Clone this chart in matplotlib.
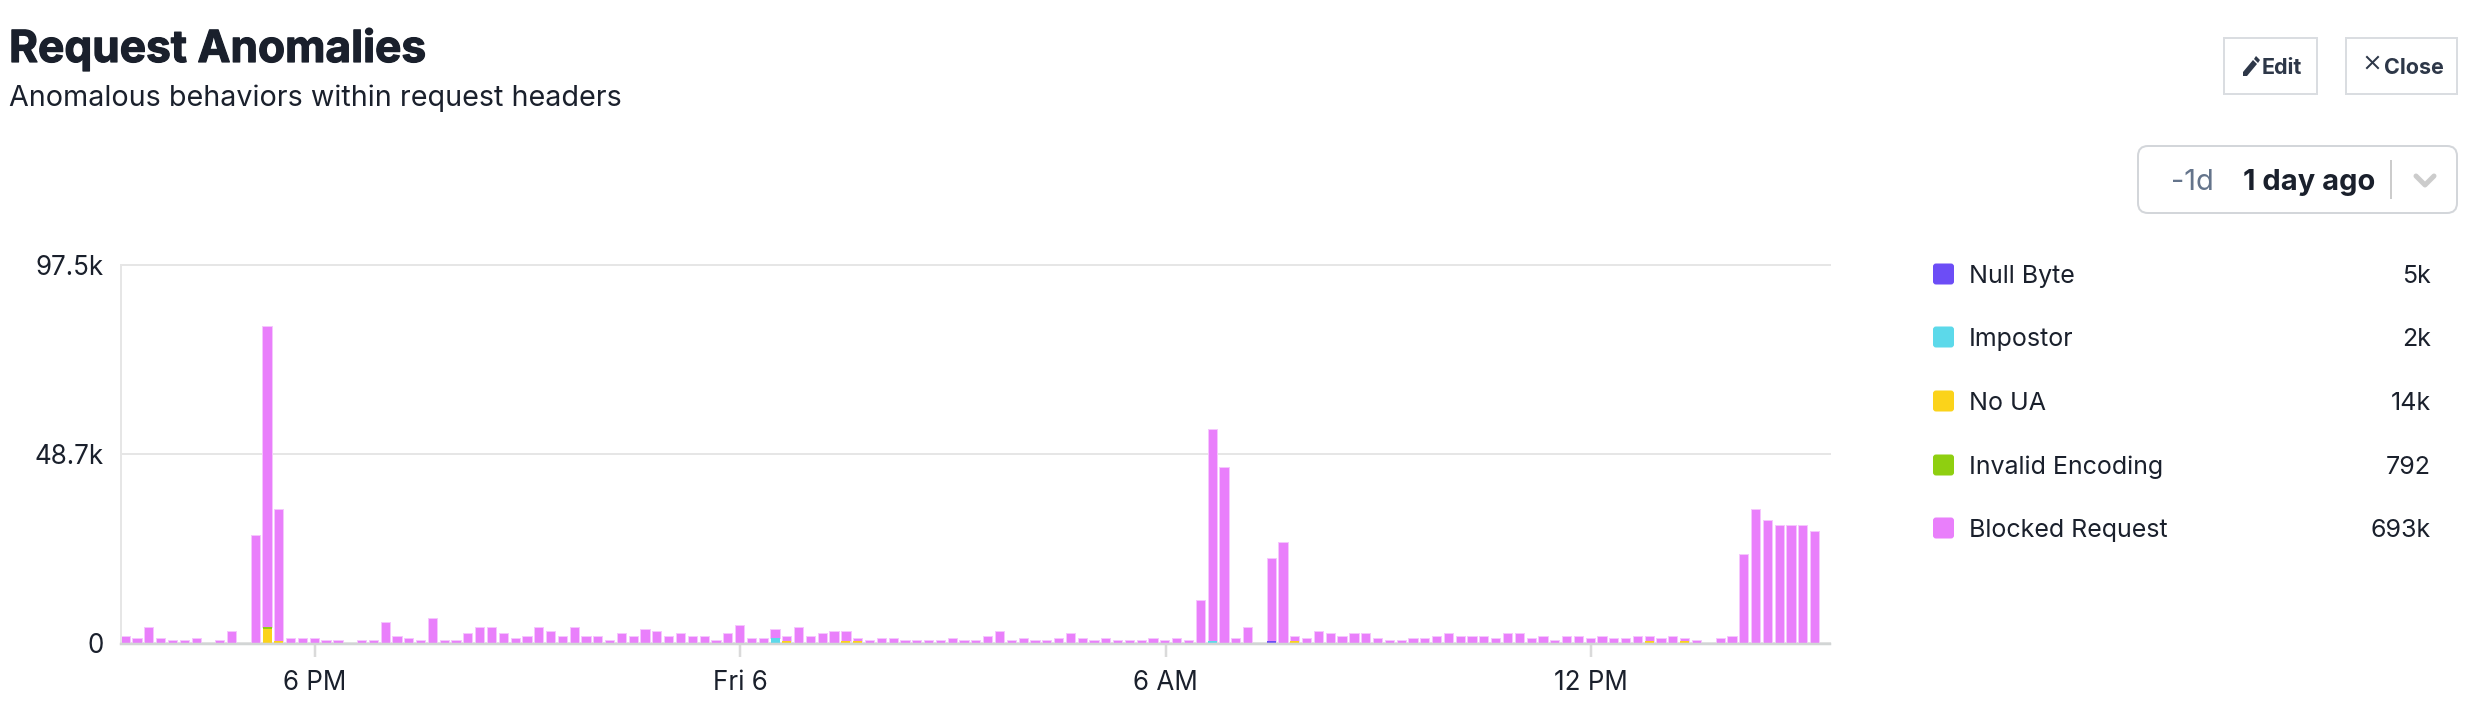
# Request Anomalies panel: stacked bars per 10 minutes with a side legend
import matplotlib
matplotlib.use('Agg')
import matplotlib.pyplot as plt
import matplotlib.patheffects as pe
import numpy as np
from matplotlib.patches import FancyBboxPatch, Polygon, Rectangle

plt.rcParams['font.family'] = ['Inter', 'DejaVu Sans']

# all values in thousands
blocked_request = [
    1.8, 1.3, 4.1, 1.3, 0.7, 0.7, 1.3, 0, 0.7, 3.0, 0, 27.7, 77.6, 34.1, 1.3, 1.3,
    1.3, 0.7, 0.7, 0, 0.7, 0.7, 5.3, 1.8, 1.3, 0.7, 6.4, 0.7, 0.7, 2.4, 4.1, 4.1,
    2.4, 1.3, 1.8, 4.1, 3.0, 1.8, 4.1, 1.8, 1.8, 0.7, 2.4, 1.8, 3.5, 3.0, 1.8, 2.4,
    1.8, 1.8, 0.7, 2.4, 4.6, 1.3, 1.3, 2.4, 1.3, 4.1, 1.8, 2.4, 3.0, 2.6, 0.9, 0.7,
    1.3, 1.3, 0.7, 0.7, 0.7, 0.7, 1.3, 0.7, 0.7, 1.8, 3.0, 0.7, 1.3, 0.7, 0.7, 1.3,
    2.4, 1.3, 0.7, 1.3, 0.7, 0.7, 0.7, 1.3, 0.7, 1.3, 0.7, 11.0, 54.7, 45.4, 1.3, 4.1,
    0, 21.4, 25.9, 1.3, 1.3, 3.0, 2.4, 1.8, 2.4, 2.4, 1.3, 0.7, 0.7, 1.3, 1.3, 1.8,
    2.4, 1.8, 1.8, 1.8, 1.3, 2.4, 2.4, 1.3, 1.8, 0.7, 1.8, 1.8, 1.3, 1.8, 1.3, 1.3,
    1.8, 1.3, 1.3, 1.8, 0.8, 0.7, 0, 1.3, 1.8, 23.0, 34.5, 31.6, 30.4, 30.4, 30.4, 28.8,
]
null_byte = {97: 0.5}
impostor = {55: 1.1, 92: 0.4}
no_ua = {12: 3.5, 13: 0.5, 56: 0.5, 61: 0.4, 62: 0.4, 99: 0.5, 129: 0.5, 132: 0.5}
invalid_encoding = {12: 0.6}

legend_names = ['Null Byte', 'Impostor', 'No UA', 'Invalid Encoding', 'Blocked Request']
legend_values = ['5k', '2k', '14k', '792', '693k']
colors = ['#6C4DF6', '#5CD9EA', '#FBD31A', '#8FCF10', '#E97FFB']

y_ticks = [0, 48.7, 97.5]
y_labels = ['0', '48.7k', '97.5k']
x_ticks = [16.06, 52.07, 88.07, 124.07]
x_labels = ['6 PM', 'Fri 6', '6 AM', '12 PM']

W, H = 2470, 716
DARK = '#1A202C'
px = 72 / 100  # font sizes below are given in pixels

fig = plt.figure(figsize=(W / 100, H / 100), dpi=100)
ax = fig.add_axes([121 / W, 1 - 642.6 / H, (1830 - 121) / W, (642.6 - 265) / H])

n = len(blocked_request)
x = np.arange(n)
bottom = np.zeros(n)
series = [null_byte, impostor, no_ua, invalid_encoding]
for s, c in zip(series, colors[:4]):
    vals = np.zeros(n)
    for k, v in s.items():
        vals[k] = v
    mask = vals > 0
    ax.bar(x[mask], vals[mask], bottom=bottom[mask], width=0.76, color=c, linewidth=0, zorder=3)
    bottom += vals
vals = np.array(blocked_request)
mask = vals > 0
ax.bar(x[mask], vals[mask], bottom=bottom[mask], width=0.78, color=colors[4],
       edgecolor='#F5C6FD', linewidth=1 * px, zorder=2.5)

ax.set_xlim(-0.36, 144.3)
ax.set_ylim(0, 97.5)
ax.set_yticks(y_ticks, y_labels)
ax.set_xticks(x_ticks, x_labels)
ax.grid(axis='y', color='#E6E6E6', linewidth=2 * px, zorder=0)
for line in ax.get_ygridlines():
    line.set_clip_on(False)
ax.set_axisbelow(True)
for side in ['top', 'right']:
    ax.spines[side].set_visible(False)
ax.spines['left'].set_color('#E6E6E6')
ax.spines['left'].set_linewidth(2 * px)
ax.spines['bottom'].set_color('#D2D5D5')
ax.spines['bottom'].set_linewidth(2.5 * px)
ax.spines['bottom'].set_position(('outward', 1.5 * px))
ax.spines['bottom'].set_zorder(4)
ax.tick_params(axis='y', length=0, pad=17 * px, labelsize=26 * px, labelcolor=DARK)
ax.tick_params(axis='x', length=13 * px, width=2.5 * px, color='#DADADA', pad=12.5 * px,
               labelsize=26 * px, labelcolor=DARK)

# overlay in pixel coordinates for the page furniture around the chart
ui = fig.add_axes([0, 0, 1, 1], zorder=5)
ui.set_xlim(0, W)
ui.set_ylim(H, 0)
ui.axis('off')

title = ui.text(9, 62, 'Request Anomalies', fontsize=44.2 * px, fontweight='bold', color=DARK, va='baseline')
title.set_path_effects([pe.withStroke(linewidth=1.2 * px, foreground=DARK)])
ui.text(9, 106, 'Anomalous behaviors within request headers', fontsize=28.7 * px, color=DARK, va='baseline')

# buttons
for x0, x1 in [(2224, 2317), (2346, 2457)]:
    ui.add_patch(Rectangle((x0, 38), x1 - x0, 56, fc='white', ec='#DADDE1', lw=2 * px))
ui.text(2262, 74, 'Edit', fontsize=21.5 * px, fontweight='bold', color='#2D3748', va='baseline')
ui.text(2384, 74, 'Close', fontsize=21.5 * px, fontweight='bold', color='#2D3748', va='baseline')
ui.add_patch(Polygon([(2243, 72), (2243, 76), (2247, 76), (2257, 64), (2253, 60)], fc='#2D3748', lw=0))
ui.add_patch(Polygon([(2254, 59), (2256, 56), (2260, 60), (2258, 63)], fc='#2D3748', lw=0))
ui.plot([2367, 2378], [57, 68], color='#2D3748', lw=2 * px)
ui.plot([2378, 2367], [57, 68], color='#2D3748', lw=2 * px)

# time range selector
ui.add_patch(FancyBboxPatch((2138, 146), 319, 67, boxstyle='round,pad=0,rounding_size=10',
                            fc='white', ec='#D3D6DA', lw=2 * px))
ui.text(2171, 190, '-1d', fontsize=29 * px, color='#64748B', va='baseline')
ui.text(2243, 190, '1 day ago', fontsize=29 * px, fontweight='bold', color=DARK, va='baseline')
ui.plot([2391, 2391], [161, 198], color='#CCCCCC', lw=2 * px)
ui.plot([2416, 2425, 2434], [176, 185, 176], color='#CCCCCC', lw=5 * px, solid_capstyle='round')

# legend
legend_y = [274, 337, 401, 465, 528]
for name, value, c, yc in zip(legend_names, legend_values, colors, legend_y):
    ui.add_patch(FancyBboxPatch((1933, yc - 10.5), 21, 21, boxstyle='round,pad=0,rounding_size=3',
                                fc=c, ec='none'))
    ui.text(1969, yc, name, fontsize=25 * px, color=DARK, va='center_baseline')
    ui.text(2431, yc, value, fontsize=25 * px, color=DARK, va='center_baseline', ha='right')

fig.savefig('out.png', dpi=100)
